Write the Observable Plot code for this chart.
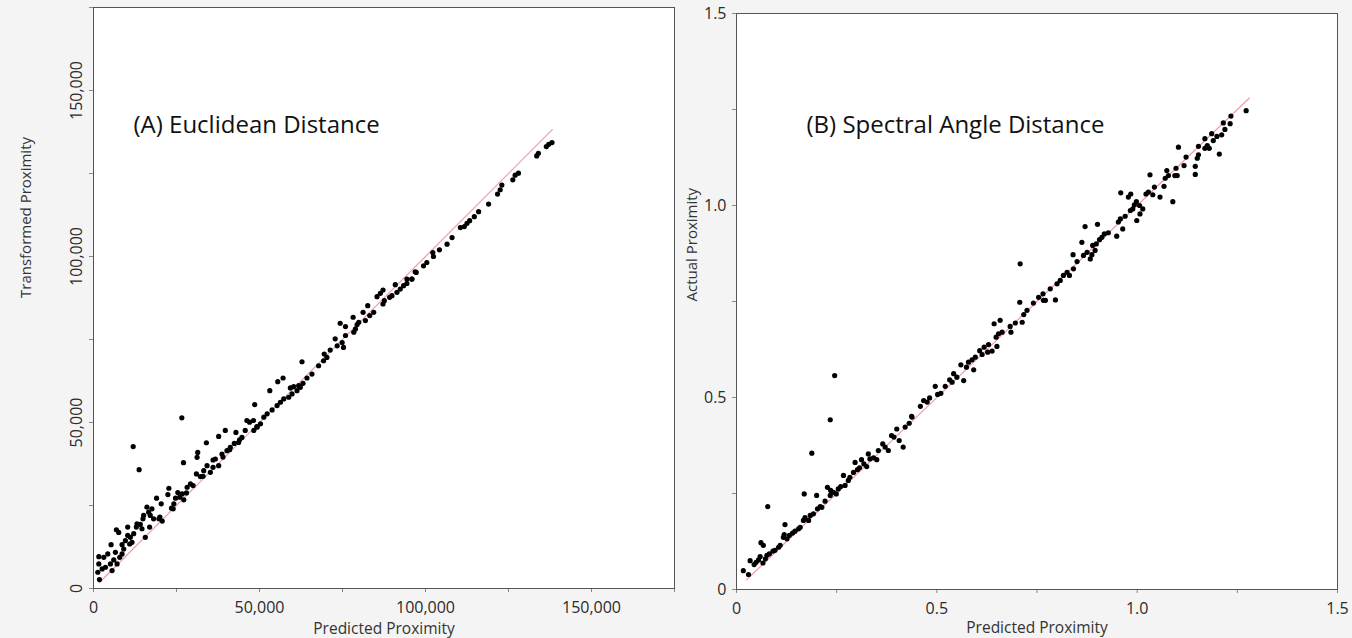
<!DOCTYPE html>
<html>
<head>
<meta charset="utf-8">
<script src="https://cdn.jsdelivr.net/npm/d3@7"></script>
<script src="https://cdn.jsdelivr.net/npm/@observablehq/plot@0.6"></script>
<style>
  html, body { margin: 0; padding: 0; background: #f4f4f4; }
  #wrap { position: relative; width: 1352px; height: 638px; background: #f4f4f4; overflow: hidden; }
  #left, #right { position: absolute; top: 0; }
  #left { left: 0; }
  #right { left: 680px; }
  svg { overflow: visible; }
</style>
</head>
<body>
<div id="wrap"><div id="left"></div><div id="right"></div></div>
<script>
// ---------- Panel A: Euclidean Distance ----------
const titleA = "(A) Euclidean Distance";
const xLabelA = "Predicted Proximity";
const yLabelA = "Transformed Proximity";
const majorTicksA = [0, 50000, 100000, 150000];
const minorTicksA = [25000, 75000, 125000, 175000];
const identityA = [1800, 138200];
const predictedA = [
  1800,1300,1600,1600,3100,3600,4300,2600,5100,5600,6600,6100,5300,7100,7900,8600,9100,8600,6900,7600,
  9600,10300,10300,11100,10900,11600,12100,13100,12900,14100,14600,15100,15600,14900,16100,16600,17100,17600,16900,18100,
  19000,19700,20700,20400,22700,22400,24000,24200,24700,25400,26000,26700,28200,27200,29200,31000,31200,31400,32200,33200,
  34000,34200,35200,36000,36700,37700,37700,38700,39700,40200,41200,42900,42400,43700,44700,45700,46200,47000,48200,49200,
  11950,13750,26600,27100,48550,
  20000,23500,30000,33000,36000,39000,41000,44000,28000,
  53100,55500,57100,59300,60300,61800,62800,63100,64300,65800,67800,69300,70300,69500,71300,72800,73400,74300,74900,75900,
  75900,75300,78200,78400,78900,79400,79900,81200,81900,82600,83200,84400,85400,86400,87200,87200,87600,89200,89900,90900,
  91400,92400,93400,94400,95900,97200,
  51300,52300,53800,55300,56300,57300,58800,59800,61300,62300,50300,49300,48300,
  94400,95900,96900,99400,100400,102200,102400,104200,106500,108000,110500,111700,112500,113300,114700,116000,119000,121700,122500,123000,
  126300,127000,128000,133500,134000,136400,137100,138100
];
const transformedA = [
  2700,4900,7400,9600,9400,6400,10400,5900,7400,5400,10900,8600,13200,7400,9400,10400,11900,13200,17700,16900,
  14400,16000,18500,15400,13400,13900,16500,19500,18500,19300,18000,22000,15400,21000,24500,23000,22000,24000,18500,21000,
  27200,21000,20300,25500,30200,28300,24000,25500,27200,28900,27500,28500,30500,26700,31500,34500,39500,41000,33700,35500,
  43900,37000,35000,38700,39000,45800,37000,40500,47600,41500,42500,47000,43700,44000,45500,47600,50600,50100,50600,48800,
  42750,35800,51400,37900,55400,
  21500,24200,31000,33800,36500,39600,41800,44800,28800,
  59600,62300,63400,60400,60800,61100,68300,61800,63400,64600,67100,68600,69600,70600,71800,75200,73100,79900,74100,78900,
  76200,72600,81700,77200,78200,79500,80200,83200,80700,85200,82200,83200,87900,88900,89900,85700,86700,87700,88200,91500,
  89200,90200,91200,91900,93200,95200,
  51600,52600,53800,55100,56100,57100,57600,58600,59600,60600,49600,48600,47600,
  93200,93200,95400,97200,98200,101200,100000,102000,103700,105700,108700,109000,110000,110800,112000,113500,115800,118800,120100,121500,
  123100,124500,125100,130300,131100,133100,133800,134300
];

// ---------- Panel B: Spectral Angle Distance ----------
const titleB = "(B) Spectral Angle Distance";
const xLabelB = "Predicted Proximity";
const yLabelB = "Actual Proximity";
const majorTicksB = [0, 0.5, 1.0, 1.5];
const minorTicksB = [0.25, 0.75, 1.25];
const identityB = [0.025, 1.28];
const predictedB = [
  0.017,0.030,0.034,0.044,0.049,0.055,0.059,0.061,0.067,0.066,0.072,0.078,0.076,0.082,0.091,0.096,0.105,0.109,0.117,0.119,
  0.121,0.126,0.132,0.140,0.146,0.155,0.159,0.169,0.167,0.171,0.180,0.184,0.188,0.192,0.200,0.202,0.209,0.213,0.221,0.227,
  0.234,0.234,0.235,0.242,0.249,0.254,0.260,0.267,0.271,0.279,0.283,0.292,0.296,0.302,0.307,0.312,0.318,0.325,0.329,0.333,
  0.342,0.350,0.354,0.365,0.371,0.379,0.387,0.393,0.400,0.406,0.416,0.421,0.431,0.437,0.245,
  0.438,0.459,0.467,0.476,0.482,0.496,0.502,0.510,0.521,0.532,0.538,0.542,0.550,0.560,0.567,0.574,0.579,0.588,0.592,0.596,
  0.607,0.613,0.618,0.627,0.629,0.638,0.643,0.648,0.650,0.654,0.658,0.663,0.683,0.685,0.696,0.708,0.707,0.713,0.717,0.725,
  0.741,0.754,0.765,0.766,0.771,0.783,0.796,0.800,0.808,0.816,0.825,0.831,
  0.841,0.850,0.840,0.862,0.866,0.870,0.875,0.883,0.887,0.889,0.895,0.898,0.901,0.906,0.912,0.918,0.928,0.949,0.953,0.959,
  0.958,0.964,0.970,0.984,0.978,0.983,0.989,0.993,0.999,0.998,1.006,1.007,1.014,1.022,1.028,1.032,1.039,1.043,1.057,1.067,
  1.070,1.074,1.078,1.089,1.094,1.097,1.103,1.100,1.117,1.122,1.145,1.145,1.150,1.153,1.153,1.169,1.169,1.175,1.180,1.186,
  1.190,1.199,1.205,1.211,1.215,1.219,1.232,1.234,1.272
];
const actualB = [
  0.049,0.039,0.075,0.065,0.071,0.077,0.086,0.122,0.115,0.069,0.080,0.216,0.089,0.093,0.100,0.102,0.110,0.115,0.136,0.143,
  0.169,0.132,0.141,0.147,0.152,0.158,0.162,0.249,0.180,0.187,0.180,0.193,0.355,0.197,0.245,0.210,0.216,0.214,0.230,0.266,
  0.442,0.245,0.258,0.253,0.249,0.262,0.268,0.297,0.271,0.284,0.292,0.305,0.331,0.312,0.317,0.338,0.327,0.320,0.353,0.340,
  0.343,0.338,0.362,0.379,0.371,0.362,0.401,0.397,0.418,0.388,0.371,0.423,0.433,0.451,0.557,
  0.449,0.477,0.492,0.488,0.499,0.529,0.508,0.511,0.529,0.546,0.540,0.562,0.553,0.585,0.544,0.579,0.592,0.598,0.572,0.605,
  0.622,0.612,0.631,0.618,0.638,0.621,0.692,0.657,0.633,0.666,0.701,0.670,0.685,0.670,0.694,0.848,0.748,0.696,0.716,0.727,
  0.746,0.761,0.770,0.753,0.753,0.783,0.754,0.796,0.805,0.818,0.826,0.818,
  0.835,0.854,0.872,0.904,0.870,0.945,0.878,0.861,0.872,0.896,0.883,0.900,0.951,0.911,0.917,0.926,0.929,0.920,0.957,1.033,
  0.965,0.939,0.972,1.030,1.022,0.987,0.991,1.002,0.961,1.010,1.000,0.978,0.991,1.030,1.035,1.080,1.028,1.048,1.022,1.050,
  1.071,1.091,1.078,1.010,1.078,1.097,1.152,1.078,1.104,1.126,1.102,1.081,1.123,1.132,1.154,1.174,1.149,1.156,1.149,1.187,
  1.169,1.180,1.134,1.184,1.215,1.198,1.213,1.233,1.247
];

const FONT = "'Open Sans', 'Noto Sans', sans-serif";
const INK = "#2b2b2b";
const LINE_COLOR = "#f39a9f";

const pointsA = predictedA.map((x, i) => ({x, y: transformedA[i]}));
const pointsB = predictedB.map((x, i) => ({x, y: actualB[i]}));

const fmtA = d3.format(",");
const fmtB = d => d === 0 ? "0" : d3.format(".1f")(d);
const noText = () => "";

const plotA = Plot.plot({
  width: 680, height: 638,
  marginLeft: 93, marginRight: 6, marginTop: 7, marginBottom: 50,
  style: {background: "transparent", fontFamily: FONT, fontSize: "16px", color: INK},
  x: {domain: [0, 175000], label: null},
  y: {domain: [0, 175000], label: null},
  marks: [
    Plot.frame({fill: "white", stroke: null}),
    Plot.axisX(minorTicksA, {tickSize: 4, stroke: "#888", tickFormat: noText, label: null}),
    Plot.axisX(majorTicksA, {tickSize: 4, stroke: "#888", tickPadding: 9, tickFormat: fmtA, fill: INK, label: null}),
    Plot.axisY(minorTicksA, {tickSize: 4, stroke: "#888", tickFormat: noText, label: null}),
    Plot.axisY(majorTicksA, {tickSize: 4, stroke: "#888", tickPadding: 8, tickRotate: -90, tickFormat: fmtA, fill: INK, label: null}),
    Plot.line(identityA, {x: d => d, y: d => d, stroke: LINE_COLOR, strokeWidth: 1.2}),
    Plot.dot(pointsA, {x: "x", y: "y", r: 2.6, fill: "#000", stroke: null}),
    Plot.frame({stroke: "#555", strokeWidth: 1}),
    Plot.text([titleA], {frameAnchor: "top-left", dx: 40, dy: 118, textAnchor: "start", lineAnchor: "middle", fontSize: 24, fill: "#111"}),
    Plot.text([xLabelA], {frameAnchor: "bottom", dy: 34, lineAnchor: "top", fontSize: 15.5, fill: "#333"}),
    Plot.text([yLabelA], {frameAnchor: "left", dx: -67, rotate: -90, lineAnchor: "middle", fontSize: 15, fill: "#333"})
  ]
});

const plotB = Plot.plot({
  width: 672, height: 638,
  marginLeft: 56, marginRight: 15, marginTop: 13, marginBottom: 49,
  style: {background: "transparent", fontFamily: FONT, fontSize: "16px", color: INK},
  x: {domain: [0, 1.5], label: null},
  y: {domain: [0, 1.5], label: null},
  marks: [
    Plot.frame({fill: "white", stroke: null}),
    Plot.axisX(minorTicksB, {tickSize: 4, stroke: "#888", tickFormat: noText, label: null}),
    Plot.axisX(majorTicksB, {tickSize: 4, stroke: "#888", tickPadding: 9, tickFormat: fmtB, fill: INK, label: null}),
    Plot.axisY(minorTicksB, {tickSize: 4, stroke: "#888", tickFormat: noText, label: null}),
    Plot.axisY(majorTicksB, {tickSize: 4, stroke: "#888", tickPadding: 6, tickFormat: fmtB, fill: INK, label: null}),
    Plot.line(identityB, {x: d => d, y: d => d, stroke: LINE_COLOR, strokeWidth: 1.2}),
    Plot.dot(pointsB, {x: "x", y: "y", r: 2.6, fill: "#000", stroke: null}),
    Plot.frame({stroke: "#555", strokeWidth: 1}),
    Plot.text([titleB], {frameAnchor: "top-left", dx: 70, dy: 112, textAnchor: "start", lineAnchor: "middle", fontSize: 24, fill: "#111"}),
    Plot.text([xLabelB], {frameAnchor: "bottom", dy: 32, lineAnchor: "top", fontSize: 15.5, fill: "#333"}),
    Plot.text([yLabelB], {frameAnchor: "left", dx: -44, rotate: -90, lineAnchor: "middle", fontSize: 15, fill: "#333"})
  ]
});

document.getElementById("left").appendChild(plotA);
document.getElementById("right").appendChild(plotB);
</script>
</body>
</html>
